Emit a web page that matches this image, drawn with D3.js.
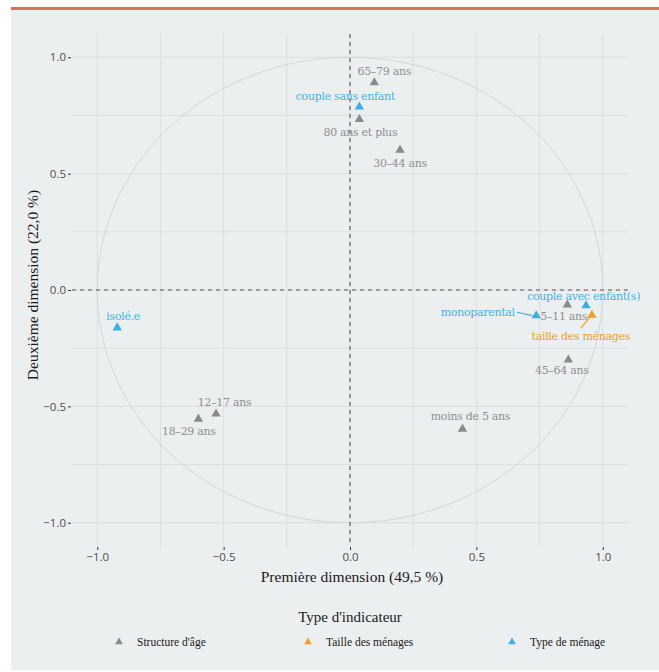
<!DOCTYPE html>
<html><head><meta charset="utf-8">
<script src="https://cdn.jsdelivr.net/npm/d3@7"></script>
<style>
html,body{margin:0;padding:0;background:#fff;}
svg{display:block;}
</style></head>
<body>
<svg id="chart" width="659" height="672"></svg>
<script>
// ---- data ----
const names = ["65–79 ans","couple sans enfant","80 ans et plus","30–44 ans","isolé.e","12–17 ans","18–29 ans","moins de 5 ans","couple avec enfant(s)","monoparental","5–11 ans","taille des ménages","45–64 ans"];
const dim1 = [0.096,0.037,0.037,0.198,-0.921,-0.530,-0.600,0.445,0.934,0.737,0.860,0.957,0.864];
const dim2 = [0.891,0.787,0.733,0.601,-0.162,-0.532,-0.554,-0.597,-0.067,-0.110,-0.064,-0.108,-0.300];
const groups = ["Structure d'âge","Type de ménage","Structure d'âge","Structure d'âge","Type de ménage","Structure d'âge","Structure d'âge","Structure d'âge","Type de ménage","Type de ménage","Structure d'âge","Taille des ménages","Structure d'âge"];
const groupNames = ["Structure d'âge","Taille des ménages","Type de ménage"];
const majorTicks = [-1.0,-0.5,0.0,0.5,1.0];
const minorTicks = [-0.75,-0.25,0.25,0.75];
const xTitle = "Première dimension (49,5 %)";
const yTitle = "Deuxième dimension (22,0 %)";
const legendTitle = "Type d'indicateur";

// ---- layout ----
const colors = {"Structure d'âge":"#8a8a8a","Taille des ménages":"#eba129","Type de ménage":"#3eaee3"};
const textColors = {"Structure d'âge":"#8f8f8f","Taille des ménages":"#e9a02a","Type de ménage":"#45b1e4"};
// label offsets (pixels, from point to label centre)
const labelOffsets = [[10,-11],[-14,-11],[1,12.5],[0,12.7],[6,-11.7],[8.5,-12],[-9.5,12],[8,-13],[-2.4,-9],[-58.5,-3.6],[-3.6,10.8],[-11,21],[-6.6,10.5]];

const svg = d3.select("#chart");
svg.append("rect").attr("x",11).attr("y",10).attr("width",648).attr("height",660).attr("fill","#eceff0");
svg.append("rect").attr("x",11).attr("y",7).attr("width",648).attr("height",3).attr("fill","#d9705b");

const x = d3.scaleLinear().domain([-1.1,1.1]).range([72,628]);
const y = d3.scaleLinear().domain([-1.1,1.1]).range([546,34]);

const g = svg.append("g");
// grid
const gridColor = "#dcdedf";
minorTicks.concat(majorTicks).forEach(t=>{
  g.append("line").attr("x1",x(t)).attr("x2",x(t)).attr("y1",y.range()[1]).attr("y2",y.range()[0])
    .attr("stroke",gridColor).attr("stroke-width",1);
  g.append("line").attr("y1",y(t)).attr("y2",y(t)).attr("x1",x.range()[0]).attr("x2",x.range()[1])
    .attr("stroke",gridColor).attr("stroke-width",1);
});
// unit circle
const circ = d3.range(0,361,2).map(a=>[Math.cos(a*Math.PI/180),Math.sin(a*Math.PI/180)]);
g.append("path").attr("d",d3.line().x(d=>x(d[0])).y(d=>y(d[1]))(circ))
  .attr("fill","none").attr("stroke","#d6d6d6").attr("stroke-width",1);
// dashed axes
g.append("line").attr("x1",x.range()[0]).attr("x2",x.range()[1]).attr("y1",y(0)).attr("y2",y(0))
  .attr("stroke","#555").attr("stroke-width",1.1).attr("stroke-dasharray","4,4");
g.append("line").attr("x1",x(0)).attr("x2",x(0)).attr("y1",y.range()[1]).attr("y2",y.range()[0])
  .attr("stroke","#555").attr("stroke-width",1.1).attr("stroke-dasharray","4,4");

// axes
const fmt = d=> d3.format(".1f")(d).replace("-","−");
const xAxis = d3.axisBottom(x).tickValues(majorTicks).tickFormat(fmt).tickSize(3).tickPadding(3);
const yAxis = d3.axisLeft(y).tickValues(majorTicks).tickFormat(fmt).tickSize(3).tickPadding(2);
const gx = svg.append("g").attr("transform",`translate(0,${y.range()[0]+1})`).call(xAxis);
const gy = svg.append("g").attr("transform",`translate(${x.range()[0]-1},0)`).call(yAxis);
[gx,gy].forEach(a=>{
  a.select(".domain").remove();
  a.selectAll(".tick line").attr("stroke","#333");
  a.selectAll(".tick text").attr("fill","#4d4d4d").style("font-family","'Open Sans', sans-serif").style("font-size","11.5px");
});

// axis titles
svg.append("text").attr("x",352).attr("y",582).attr("text-anchor","middle")
  .style("font-family","'Liberation Serif', serif").style("font-size","15.5px").attr("fill","#1a1a1a").text(xTitle);
svg.append("text").attr("transform","translate(38,285) rotate(-90)").attr("text-anchor","middle")
  .style("font-family","'Liberation Serif', serif").style("font-size","15.5px").attr("fill","#1a1a1a").text(yTitle);

// points
const tri = d3.symbol().type(d3.symbolTriangle).size(38);
const pts = names.map((n,i)=>({n,x:dim1[i],y:dim2[i],g:groups[i],off:labelOffsets[i]}));
// leader segments
pts.forEach(p=>{
  const px=x(p.x), py=y(p.y);
  let a=null, b=null;
  if(p.n==="monoparental"){ a=[517,py-3.4]; b=[px-4,py]; }
  if(p.n==="taille des ménages"){ a=[px-11,py+13]; b=[px-2,py+2]; }
  if(a){
    svg.append("line").attr("x1",a[0]).attr("y1",a[1]).attr("x2",b[0]).attr("y2",b[1])
      .attr("stroke",colors[p.g]).attr("stroke-width",1.1);
  }
});
svg.selectAll("path.pt").data(pts).join("path").attr("class","pt")
  .attr("transform",d=>`translate(${x(d.x)},${y(d.y)})`).attr("d",tri).attr("fill",d=>colors[d.g]);
svg.selectAll("text.lbl").data(pts).join("text").attr("class","lbl")
  .attr("x",d=>x(d.x)+d.off[0]).attr("y",d=>y(d.y)+d.off[1]).attr("dy","0.35em")
  .attr("text-anchor","middle").attr("fill",d=>textColors[d.g])
  .style("font-family","'DejaVu Serif', serif").style("font-size","11px").style("letter-spacing","-0.3px")
  .text(d=>d.n);

// legend
svg.append("text").attr("x",350).attr("y",622).attr("text-anchor","middle")
  .style("font-family","'Liberation Serif', serif").style("font-size","15px").attr("fill","#1a1a1a").text(legendTitle);
const legX = [119,308,512];
groupNames.forEach((gn,i)=>{
  svg.append("path").attr("transform",`translate(${legX[i]},${642})`).attr("d",d3.symbol().type(d3.symbolTriangle).size(26)).attr("fill",colors[gn]);
  svg.append("text").attr("x",legX[i]+18).attr("y",642).attr("dy","0.35em")
    .style("font-family","'Liberation Serif', serif").style("font-size","11.5px").attr("fill","#1a1a1a").text(gn);
});
</script>
</body></html>
